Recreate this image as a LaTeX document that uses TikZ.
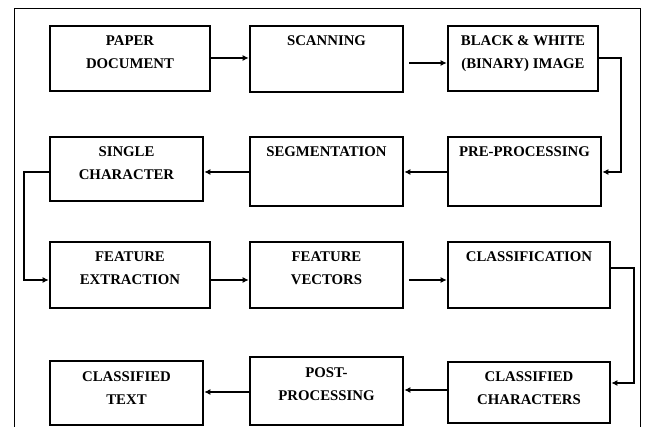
\documentclass[tikz,border=0pt]{standalone}
\usepackage{fontspec}
\setmainfont{Liberation Serif}
\usetikzlibrary{arrows.meta}
\begin{document}
\begin{tikzpicture}[x=1pt,y=-1pt,
  box/.style={draw=black, line width=2.6pt, rectangle, inner sep=0pt, fill=white},
  lbl/.style={anchor=north, inner sep=0pt, align=center, text=black,
    font=\fontsize{14.8}{23}\selectfont\bfseries},
  conn/.style={line width=2pt, -{Latex[length=6pt,width=6pt]}},
  frame/.style={line width=1pt}]
\useasboundingbox (0,0) rectangle (645,427);
% outer frame (open at bottom)
\coordinate (fbl) at (14,427);
\coordinate (ftl) at (14,9);
\coordinate (ftr) at (640,9);
\coordinate (fbr) at (640,427);
\draw[frame] (fbl) -- (ftl) -- (ftr) -- (fbr);
% row 1
\node[box, minimum width=160, minimum height=65] (paper) at (130,58.5) {};
\node[box, minimum width=153, minimum height=66] (scan) at (326.5,59) {};
\node[box, minimum width=150, minimum height=65] (bw) at (523,58.5) {};
% row 2
\node[box, minimum width=153, minimum height=64] (single) at (126.5,169) {};
\node[box, minimum width=153, minimum height=69] (seg) at (326.5,171.5) {};
\node[box, minimum width=153, minimum height=69] (pre) at (524.5,171.5) {};
% row 3
\node[box, minimum width=160, minimum height=66] (fe) at (130,275) {};
\node[box, minimum width=153, minimum height=66] (fv) at (326.5,275) {};
\node[box, minimum width=162, minimum height=66] (cls) at (529,275) {};
% row 4
\node[box, minimum width=153, minimum height=64] (ct) at (126.5,393) {};
\node[box, minimum width=153, minimum height=68] (pp) at (326.5,391) {};
\node[box, minimum width=162, minimum height=61] (cc) at (529,392.5) {};
% labels
\node[lbl] (paperT) at ([yshift=-11pt]paper.north) {PAPER\\DOCUMENT};
\node[lbl] (scanT) at ([yshift=-11pt]scan.north) {SCANNING};
\node[lbl] (bwT) at ([yshift=-11pt]bw.north) {BLACK \& WHITE\\(BINARY) IMAGE};
\node[lbl] (singleT) at ([yshift=-11pt]single.north) {SINGLE\\CHARACTER};
\node[lbl] (segT) at ([yshift=-11pt]seg.north) {SEGMENTATION};
\node[lbl] (preT) at ([yshift=-11pt]pre.north) {PRE-PROCESSING};
\node[lbl] (feT) at ([yshift=-11pt]fe.north) {FEATURE\\EXTRACTION};
\node[lbl] (fvT) at ([yshift=-11pt]fv.north) {FEATURE\\VECTORS};
\node[lbl] (clsT) at ([yshift=-11pt]cls.north) {CLASSIFICATION};
\node[lbl] (ctT) at ([yshift=-12pt]ct.north) {CLASSIFIED\\TEXT};
\node[lbl] (ppT) at ([yshift=-12pt]pp.north) {POST-\\PROCESSING};
\node[lbl] (ccT) at ([yshift=-11pt]cc.north) {CLASSIFIED\\CHARACTERS};
% connectors
\draw[conn] ([yshift=0.5pt]paper.east) -- ([yshift=0.5pt]paper.east -| scan.west);
\draw[conn, shorten <=5pt] ([yshift=-4pt]scan.east) -- ([yshift=-4pt]scan.east -| bw.west);
\draw[conn] ([yshift=0.5pt]bw.east) -- ++(22,0) |- ([yshift=-0.5pt]pre.east);
\draw[conn] ([yshift=-0.5pt]pre.west) -- ([yshift=-0.5pt]pre.west -| seg.east);
\draw[conn] ([yshift=-0.5pt]seg.west) -- ([yshift=-0.5pt]seg.west -| single.east);
\draw[conn] ([yshift=-3pt]single.west) -- ++(-25,0) |- ([yshift=-5pt]fe.west);
\draw[conn] ([yshift=-5pt]fe.east) -- ([yshift=-5pt]fe.east -| fv.west);
\draw[conn, shorten <=5pt] ([yshift=-5pt]fv.east) -- ([yshift=-5pt]fv.east -| cls.west);
\draw[conn] ([yshift=7pt]cls.east) -- ++(23,0) |- ([yshift=9.5pt]cc.east);
\draw[conn] ([yshift=2.5pt]cc.west) -- ([yshift=2.5pt]cc.west -| pp.east);
\draw[conn] ([yshift=-1pt]pp.west) -- ([yshift=-1pt]pp.west -| ct.east);
\end{tikzpicture}
\end{document}
